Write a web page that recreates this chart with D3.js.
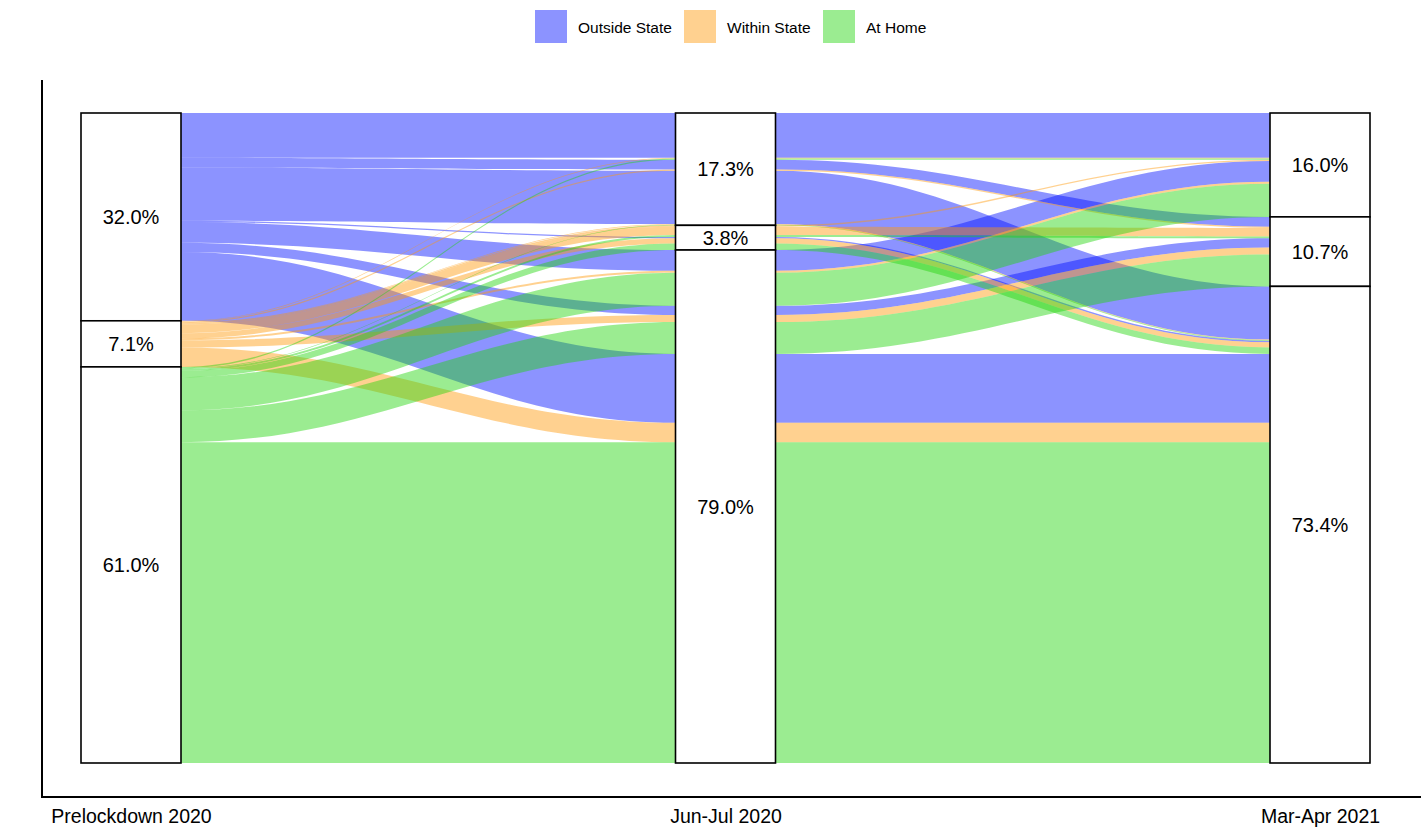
<!DOCTYPE html>
<html>
<head>
<meta charset="utf-8">
<title>Alluvial</title>
<script src="https://d3js.org/d3.v7.min.js"></script>
<style>
body {
	margin: 0;
	background-color: white;
	font-family: "Liberation Sans", Arial, sans-serif;
}
.flow {
	fill-opacity: 0.45;
	stroke: none;
}
.box {
	fill: white;
	stroke: black;
	stroke-width: 1.6;
}
.lab {
	font-size: 20px;
	text-anchor: middle;
	dominant-baseline: central;
}
.legend text {
	font-size: 15.5px;
	dominant-baseline: central;
}
.xaxis text {
	font-size: 19.5px;
	fill: black;
}
</style>
</head>
<body>
<div id="graph"></div>
<script>
(function() {
"use strict";

const axisNames = ["Prelockdown 2020", "Jun-Jul 2020", "Mar-Apr 2021"];
const states = ["Outside State", "Within State", "At Home"];
const codes = ["O", "W", "H"];
const fills = ["#0010ff", "#ff9808", "#22d40c"];

// one route per alluvium: status at the three survey waves
const routes = [
	"OOO", "OOW", "OOH", "OWH", "OHO", "OHW", "OHH",
	"WOO", "WOW", "WOH", "WWO", "WWW", "WWH", "WHO", "WHW", "WHH",
	"HOO", "HOH", "HWW", "HWH", "HHO", "HHW", "HHH"
];
const shares = [
	6.9, 1.5, 8.2, 0.2, 3.2, 1.4, 10.6,
	0.1, 0.2, 0.1, 0.2, 1.3, 0.8, 0.3, 1.1, 3.0,
	0.2, 0.1, 0.3, 1.0, 5.1, 4.9, 49.4
];

function main()
{
	const width = 1421, height = 839;
	const total = d3.sum(shares);

	const x = d3.scaleLinear([1, 3], [131, 1320]);
	const y = d3.scaleLinear([0, total], [113, 763]);
	const hw = 50;

	const svg = d3.select("#graph")
		.append("svg")
			.attr("width", width)
			.attr("height", height);

	const data = routes.map((r, i) => ({
		path: r.split("").map(c => codes.indexOf(c)),
		value: shares[i],
		pos: []
	}));

	// lode ordering inside strata, zigzag guidance
	const guidance = [[0, 1, 2], [1, 2, 0], [2, 1, 0]];
	guidance.forEach((g, ax) => {
		const sorted = data.slice().sort((a, b) => {
			for (const k of g)
				if (a.path[k] !== b.path[k]) return a.path[k] - b.path[k];
			return 0;
		});
		let acc = 0;
		for (const d of sorted) {
			d.pos[ax] = [acc, acc + d.value];
			acc += d.value;
		}
	});

	const c = 0.4;
	function ribbon(d)
	{
		const p = d3.path();
		const t = d.pos.map(v => y(v[0]));
		const b = d.pos.map(v => y(v[1]));
		p.moveTo(x(1) - hw, t[0]);
		p.lineTo(x(1) + hw, t[0]);
		for (let i = 0; i < 2; i++) {
			const x0 = x(i + 1) + hw, x1 = x(i + 2) - hw, dx = x1 - x0;
			p.bezierCurveTo(x0 + c * dx, t[i], x1 - c * dx, t[i + 1], x1, t[i + 1]);
			p.lineTo(x(i + 2) + hw, t[i + 1]);
		}
		p.lineTo(x(3) + hw, b[2]);
		p.lineTo(x(3) - hw, b[2]);
		for (let i = 2; i > 0; i--) {
			const x1 = x(i + 1) - hw, x0 = x(i) + hw, dx = x1 - x0;
			p.bezierCurveTo(x1 - c * dx, b[i], x0 + c * dx, b[i - 1], x0, b[i - 1]);
			p.lineTo(x(i) - hw, b[i - 1]);
		}
		p.closePath();
		return p.toString();
	}

	svg.append("g")
		.selectAll("path")
		.data(data)
		.join("path")
			.attr("class", "flow")
			.attr("fill", d => fills[d.path[0]])
			.attr("d", ribbon);

	// strata boxes
	const strata = [];
	for (let ax = 0; ax < 3; ax++) {
		let acc = 0;
		states.forEach((s, k) => {
			const v = d3.sum(data.filter(d => d.path[ax] === k), d => d.value);
			strata.push({ax: ax, y0: acc, y1: acc + v, value: v});
			acc += v;
		});
	}
	const sg = svg.append("g");
	sg.selectAll("rect")
		.data(strata)
		.join("rect")
			.attr("class", "box")
			.attr("x", d => x(d.ax + 1) - hw)
			.attr("y", d => y(d.y0))
			.attr("width", 2 * hw)
			.attr("height", d => y(d.y1) - y(d.y0));
	sg.selectAll("text")
		.data(strata)
		.join("text")
			.attr("class", "lab")
			.attr("x", d => x(d.ax + 1))
			.attr("y", d => y((d.y0 + d.y1) / 2))
			.text(d => d3.format(".1f")(d.value) + "%");

	// axes
	svg.append("line")
		.attr("x1", 42).attr("x2", 42)
		.attr("y1", 80).attr("y2", 797)
		.attr("stroke", "black").attr("stroke-width", 2);
	svg.append("line")
		.attr("x1", 41).attr("x2", width)
		.attr("y1", 797).attr("y2", 797)
		.attr("stroke", "black").attr("stroke-width", 2);

	const xAxis = d3.axisBottom(x)
		.tickValues([1, 2, 3])
		.tickFormat((d, i) => axisNames[i])
		.tickSize(0)
		.tickPadding(12);
	const ga = svg.append("g")
		.attr("class", "xaxis")
		.attr("transform", "translate(0,797)")
		.call(xAxis);
	ga.select(".domain").remove();
	ga.selectAll("text").attr("font-family", null);

	// legend
	const lx = [535, 684, 823];
	const lg = svg.append("g").attr("class", "legend");
	states.forEach((s, k) => {
		lg.append("rect")
			.attr("x", lx[k]).attr("y", 10)
			.attr("width", 32).attr("height", 33)
			.attr("fill", fills[k])
			.attr("fill-opacity", 0.45);
		lg.append("text")
			.attr("x", lx[k] + 43).attr("y", 27)
			.text(s);
	});
}
window.addEventListener("DOMContentLoaded", main);
})();
</script>
</body>
</html>
